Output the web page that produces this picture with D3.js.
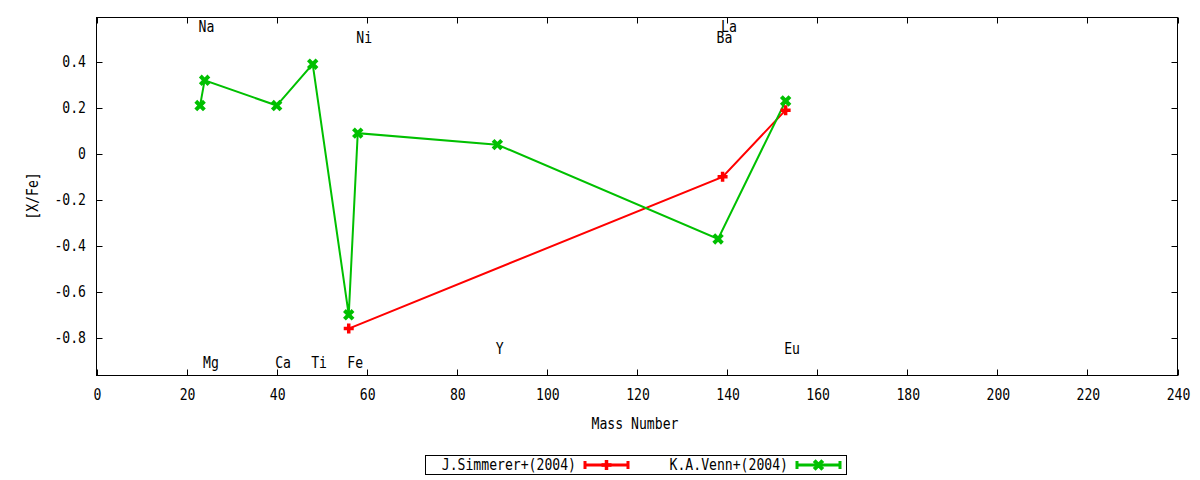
<!DOCTYPE html>
<html>
<head>
<meta charset="utf-8">
<script src="https://cdn.jsdelivr.net/npm/d3@7"></script>
<style>
  body { margin: 0; background: #fff; }
  svg text { font-family: "DejaVu Sans Mono", monospace; font-size: 16px; fill: #000; }
</style>
</head>
<body>
<svg id="chart" width="1200" height="480"></svg>
<script>
// ---- data ----
const simmererMass = [56, 139, 153];
const simmererValue = [-0.76, -0.10, 0.19];
const vennMass = [23, 24, 40, 48, 56, 58, 89, 138, 153];
const vennValue = [0.21, 0.32, 0.21, 0.39, -0.70, 0.09, 0.04, -0.37, 0.23];
const elementNames = ["Na", "Ni", "La", "Ba", "Mg", "Ca", "Ti", "Fe", "Y", "Eu"];
const elementMass = [23, 58, 139, 138, 24, 40, 48, 56, 89, 153];
const elementLabelY = [0.55, 0.505, 0.55, 0.505, -0.91, -0.91, -0.91, -0.91, -0.85, -0.85];
const xTicks = [0, 20, 40, 60, 80, 100, 120, 140, 160, 180, 200, 220, 240];
const yTicks = [-0.8, -0.6, -0.4, -0.2, 0, 0.2, 0.4];
const seriesNames = ["J.Simmerer+(2004)", "K.A.Venn+(2004)"];
const seriesColors = ["#ff0000", "#00c000"];

// ---- layout ----
const L = 96.5, R = 1177.5, T = 17.5, B = 375.5;
const svg = d3.select("#chart");
const x = d3.scaleLinear().domain([0, 240]).range([L, R]);
const y = d3.scaleLinear().domain([-0.964, 0.593]).range([B, T]);
const SX = 0.82;

function label(px, py, str, anchor, rotate) {
  return svg.append("text")
    .attr("transform", `translate(${px},${py - 1})${rotate ? " rotate(-90)" : ""} scale(${SX},1)`)
    .attr("x", 0).attr("y", 0)
    .attr("text-anchor", anchor || "start")
    .attr("dominant-baseline", "central")
    .text(str);
}

// ticks (inward, mirrored)
const tickLen = 6;
const g = svg.append("g").attr("stroke", "#000").attr("stroke-width", 1);
xTicks.forEach(v => {
  const px = Math.round(x(v)) + 0.5;
  g.append("line").attr("x1", px).attr("x2", px).attr("y1", B).attr("y2", B - tickLen);
  g.append("line").attr("x1", px).attr("x2", px).attr("y1", T).attr("y2", T + tickLen);
});
yTicks.forEach(v => {
  const py = Math.round(y(v)) + 0.5;
  g.append("line").attr("x1", L).attr("x2", L + tickLen).attr("y1", py).attr("y2", py);
  g.append("line").attr("x1", R).attr("x2", R - tickLen).attr("y1", py).attr("y2", py);
});
svg.append("rect").attr("x", L).attr("y", T).attr("width", R - L).attr("height", B - T)
  .attr("fill", "none").attr("stroke", "#000").attr("stroke-width", 1);

// tick labels
xTicks.forEach(v => label(x(v) + 1, 395, String(v), "middle"));
const fmtY = v => (v === 0 ? "0" : d3.format(".1f")(v).replace("−", "-"));
yTicks.forEach(v => label(86, y(v), fmtY(v), "end"));

// axis titles
label(635, 424, "Mass Number", "middle");
label(32, 197, "[X/Fe]", "middle", true);

// element labels
elementNames.forEach((n, i) => label(x(elementMass[i]) - 1.5, y(elementLabelY[i]), n, "start"));

// markers
function plus(sel, cx, cy, s, color) {
  sel.append("path").attr("d", `M${cx - s},${cy}H${cx + s}M${cx},${cy - s}V${cy + s}`)
    .attr("stroke", color).attr("stroke-width", 3.5).attr("fill", "none");
}
function cross(sel, cx, cy, s, color) {
  sel.append("path").attr("d", `M${cx - s},${cy - s}L${cx + s},${cy + s}M${cx - s},${cy + s}L${cx + s},${cy - s}`)
    .attr("stroke", color).attr("stroke-width", 4).attr("fill", "none");
}

const line = d3.line().x(d => x(d[0])).y(d => y(d[1]));
const series = [
  { mass: simmererMass, value: simmererValue, marker: plus, size: 5 },
  { mass: vennMass, value: vennValue, marker: cross, size: 4.3 }
];
series.forEach((s, k) => {
  const pts = s.mass.map((m, i) => [m, s.value[i]]);
  svg.append("path").attr("d", line(pts)).attr("fill", "none")
    .attr("stroke", seriesColors[k]).attr("stroke-width", 2);
});
series.forEach((s, k) => {
  s.mass.forEach((m, i) => s.marker(svg, x(m), y(s.value[i]), s.size, seriesColors[k]));
});

// legend
svg.append("rect").attr("x", 425.5).attr("y", 455.5).attr("width", 421).attr("height", 19)
  .attr("fill", "none").attr("stroke", "#000").attr("stroke-width", 1);
const legendTextX = [576, 788];
const legendSampleX = [585, 797];
series.forEach((s, k) => {
  const cy = 465;
  label(legendTextX[k], cy, seriesNames[k], "end");
  const x0 = legendSampleX[k], x1 = x0 + 43;
  svg.append("path").attr("d", `M${x0},${cy}H${x1}M${x0},${cy - 4}V${cy + 4}M${x1},${cy - 4}V${cy + 4}`)
    .attr("stroke", seriesColors[k]).attr("stroke-width", 3).attr("fill", "none");
  s.marker(svg, (x0 + x1) / 2, cy, s.size, seriesColors[k]);
});
</script>
</body>
</html>
